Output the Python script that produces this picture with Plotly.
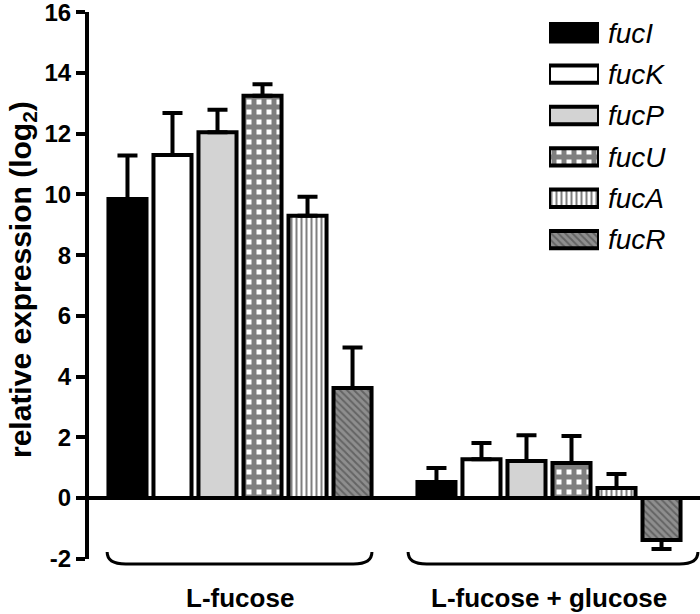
import plotly.graph_objects as go

# ---------------- data ----------------
groups = ["L-fucose", "L-fucose + glucose"]
genes = ["fucI", "fucK", "fucP", "fucU", "fucA", "fucR"]
fucose_vals = [9.85, 11.3, 12.05, 13.25, 9.3, 3.62]
fucose_err = [1.43, 1.38, 0.74, 0.38, 0.62, 1.34]
glucose_vals = [0.53, 1.28, 1.22, 1.15, 0.33, -1.38]
glucose_err = [0.46, 0.53, 0.85, 0.89, 0.46, 0.30]
y_ticks = [-2, 0, 2, 4, 6, 8, 10, 12, 14, 16]

# ---------------- styles ----------------
styles = {
    "fucI": dict(color="black", pattern=dict(shape="")),
    "fucK": dict(color="white", pattern=dict(shape="")),
    "fucP": dict(color="#d3d3d3", pattern=dict(shape="")),
    "fucU": dict(color="white", pattern=dict(shape="+", fgcolor="black", bgcolor="white",
                                             size=10, solidity=0.75)),
    "fucA": dict(color="white", pattern=dict(shape="|", fgcolor="black", bgcolor="white",
                                             size=5, solidity=0.4)),
    "fucR": dict(color="#8e8e8e", pattern=dict(shape="\\", fgcolor="#3a3a3a", bgcolor="#8e8e8e",
                                               size=5, solidity=0.4)),
}

FONT = "Liberation Sans, Arial, Helvetica, sans-serif"
W, H = 700, 614
ML, MR, MT, MB = 89, 0, 12, 55
plot_w = W - ML - MR
plot_h = H - MT - MB
XMIN, XMAX = -0.4887, 1.4887

fig = go.Figure()

x_pos = list(range(len(groups)))
for i, g in enumerate(genes):
    vals = [fucose_vals[i], glucose_vals[i]]
    errs = [fucose_err[i], glucose_err[i]]
    plus = [e if v >= 0 else 0 for v, e in zip(vals, errs)]
    minus = [e if v < 0 else 0 for v, e in zip(vals, errs)]
    st = styles[g]
    fig.add_trace(go.Bar(
        x=x_pos, y=vals, name=g, showlegend=False,
        marker=dict(color=st["color"], pattern=st["pattern"],
                    line=dict(color="black", width=4)),
        error_y=dict(type="data", symmetric=False, array=plus, arrayminus=minus,
                     color="black", thickness=4, width=10),
        xaxis="x", yaxis="y",
    ))

# legend keys drawn as a small horizontal bar chart in its own axes
for i, g in enumerate(genes):
    st = styles[g]
    fig.add_trace(go.Bar(
        x=[1], y=[i], orientation="h", showlegend=False, width=0.42,
        marker=dict(color=st["color"], pattern=st["pattern"],
                    line=dict(color="black", width=4)),
        xaxis="x2", yaxis="y2", cliponaxis=False, hoverinfo="skip",
    ))

fig.update_layout(
    width=W, height=H,
    margin=dict(l=ML, r=MR, t=MT, b=MB, autoexpand=False),
    paper_bgcolor="white", plot_bgcolor="white",
    barmode="group", bargap=0.126, bargroupgap=0.155,
    showlegend=False,
    xaxis=dict(range=[XMIN, XMAX], visible=False, fixedrange=True),
    yaxis=dict(
        range=[-2.01, 16.01], tickvals=y_ticks, ticktext=[str(t) for t in y_ticks],
        ticks="outside", ticklen=9, tickwidth=4, tickcolor="black",
        showline=True, linewidth=4, linecolor="black",
        showgrid=False, zeroline=True, zerolinewidth=4, zerolinecolor="black",
        tickfont=dict(family=FONT, size=24, color="black", weight="bold"),
        ticklabeloverflow="allow", automargin=False, fixedrange=True,
    ),
    xaxis2=dict(domain=[(549 - ML) / plot_w, (599 - ML) / plot_w], range=[0, 1],
                visible=False, anchor="y2", fixedrange=True),
    yaxis2=dict(domain=[0.546, 1.0], range=[5.5, -0.5], anchor="x2", side="right",
                tickvals=list(range(len(genes))),
                ticktext=["<i>%s</i>" % g for g in genes],
                ticks="", showline=False, showgrid=False, zeroline=False,
                tickfont=dict(family=FONT, size=28, color="black"),
                ticklabelstandoff=8, ticklabeloverflow="allow",
                automargin=False, fixedrange=True),
)

# y-axis title
fig.add_annotation(
    text="relative expression (log<sub>2</sub>)", textangle=-90,
    xref="paper", yref="paper", x=(22 - ML) / plot_w, y=(H - MB - 280) / plot_h,
    xanchor="center", yanchor="middle", showarrow=False,
    font=dict(family=FONT, size=30, color="black", weight="bold"),
)

# group labels
for gi, gname in enumerate(groups):
    fig.add_annotation(
        text=gname, xref="x", yref="paper", x=x_pos[gi],
        y=-(598 - (H - MB)) / plot_h, xanchor="center", yanchor="middle",
        showarrow=False, font=dict(family=FONT, size=26, color="black", weight="bold"),
    )

# braces under the groups
brace_spans = [(-0.430, 0.427), (0.544, 1.482)]
y_top = -(552 - (H - MB)) / plot_h
y_bot = -(564 - (H - MB)) / plot_h
for (a, b) in brace_spans:
    r = 0.06
    path = (f"M {a},{y_top} Q {a},{y_bot} {a + r},{y_bot} "
            f"L {b - r},{y_bot} Q {b},{y_bot} {b},{y_top}")
    fig.add_shape(type="path", path=path, xref="x", yref="paper",
                  line=dict(color="black", width=3))

fig.write_html(
    "out.html",
    config={"displayModeBar": False, "staticPlot": False},
    post_script="document.body.style.margin='0';document.body.style.overflow='hidden';",
)
